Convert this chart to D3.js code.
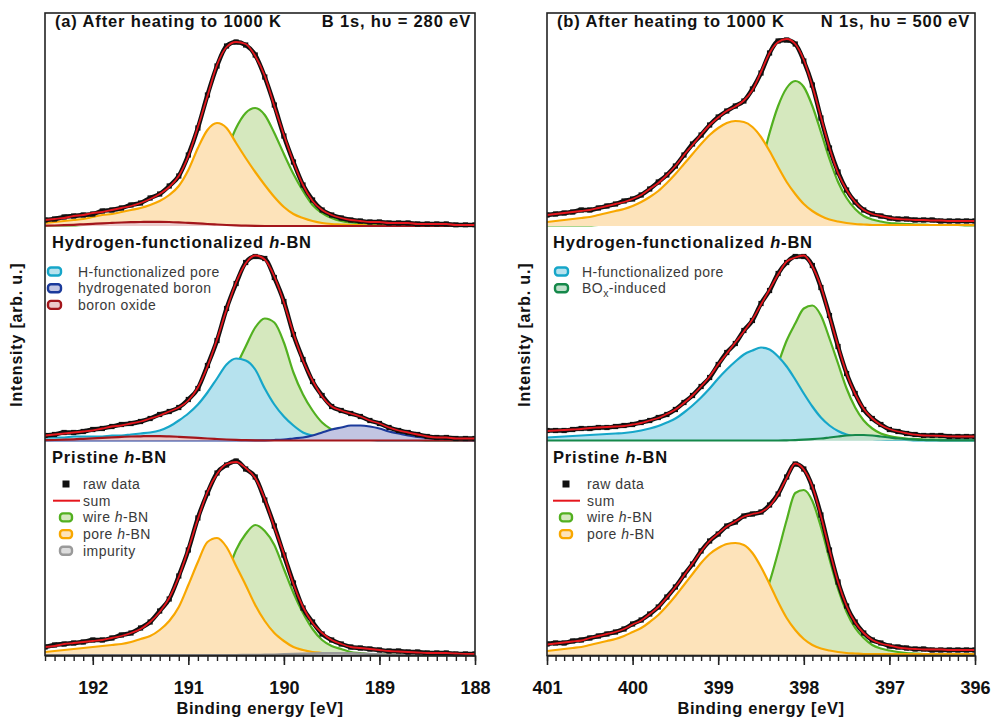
<!DOCTYPE html>
<html><head><meta charset="utf-8">
<script src="https://cdn.jsdelivr.net/npm/d3@7"></script>
<style>
body{margin:0;background:#fff}
svg text{font-family:"Liberation Sans",Arial,Helvetica,sans-serif}
</style>
</head><body>
<svg id="chart" width="993" height="720"></svg>
<script>
// ---------------- DATA ----------------
const B_ENERGY = [192.5,192.4,192.3,192.2,192.1,192.0,191.9,191.8,191.7,191.6,191.5,191.4,191.3,191.2,191.1,191.0,190.9,190.8,190.7,190.6,190.5,190.4,190.3,190.2,190.1,190.0,189.9,189.8,189.7,189.6,189.5,189.4,189.3,189.2,189.1,189.0,188.9,188.8,188.7,188.6,188.5,188.4,188.3,188.2,188.1,188.0];
const N_ENERGY = [401.0,400.9,400.8,400.7,400.6,400.5,400.4,400.3,400.2,400.1,400.0,399.9,399.8,399.7,399.6,399.5,399.4,399.3,399.2,399.1,399.0,398.9,398.8,398.7,398.6,398.5,398.4,398.3,398.2,398.1,398.0,397.9,397.8,397.7,397.6,397.5,397.4,397.3,397.2,397.1,397.0,396.9,396.8,396.7,396.6,396.5,396.4,396.3,396.2,396.1,396.0];
const B_TICKS = [192,191,190,189,188];
const N_TICKS = [401,400,399,398,397,396];

// (a) B 1s — after heating to 1000 K
const A_TOP_RAW   = [6,7,9,10,11,12,15,16,18,21,23,28,32,40,50,71,98,131,160,180,184,181,171,149,121,90,64,41,26,16,11,8,6,5,4,4,3,3,3,2,2,2,2,1,1,1];
const A_TOP_SUM   = [6,7,8,10,11,13,14,16,18,20,23,27,32,39,50,70,99,130,161,179,184,182,170,150,120,91,64,41,25,16,11,8,6,5,4,4,3,3,3,2,2,2,2,1,1,1];
const A_TOP_WIRE  = [0.5,0.5,0.5,0.5,1,1,1,1,1,1,1.5,2,3,4,6,10,18,33,52,75,98,113,118,111,93,72,52,35,21,13,8,5,3.5,2.5,2,1.5,1,1,1,0.5,0.5,0.5,0.5,0.5,0.5,0.5];
const A_TOP_PORE  = [3,4,5,6,7,9,11,12,14,16,18,21,25,31,40,56,78,96,103,98,83,68,54,41,29,19,12,8,5,3,2,1.5,1,1,0.5,0.5,0.5,0.5,0,0,0,0,0,0,0,0];
const A_TOP_OXIDE = [0.3,0.5,0.8,1.2,1.7,2.2,2.7,3.1,3.5,3.8,4,4.2,4.2,4,3.6,3.1,2.6,2,1.5,1,0.6,0.3,0.1,0,0,0,0,0,0,0,0,0,0,0,0,0,0,0,0,0,0,0,0,0,0,0];

// (a) B 1s — hydrogen-functionalized
const A_MID_RAW    = [5,6,8,8,9,11,12,14,16,17,19,22,26,29,33,41,52,75,100,132,157,178,184,182,163,139,106,81,59,45,34,30,27,24,20,17,13,10,8,6,4,3,3,2,2,2];
const A_MID_SUM    = [5,6,7,8,9,10,12,14,15,17,19,22,25,29,33,40,53,74,101,131,158,177,185,181,164,138,107,80,60,44,34,30,27,24,20,17,13,10,8,6,4,3,3,2,2,2];
const A_MID_WIRE   = [0.5,0.5,0.5,0.5,0.5,0.5,1,1,1,1,1,2,3,4,6,10,15,24,36,53,74,94,113,122,118,98,68,46,30,18,11,6,4,2,1,1,0.5,0.5,0.5,0.5,0,0,0,0,0,0];
const A_MID_HPORE  = [3,3,3,4,4,4,4,5,5,6,7,8,10,14,20,27,36,48,62,76,82,80,71,52,36,24,15,8,5,3,2,1,1,0.5,0.5,0,0,0,0,0,0,0,0,0,0,0];
const A_MID_HBORON = [0,0,0,0,0,0,0,0,0,0,0,0,0,0,0,0,0,0,0,0,0,0,0,0.2,0.5,1,2,3,5,8,11,13,15,15,14,12,9,7,5,3.5,2.5,1.5,1,0.5,0.3,0.2];
const A_MID_OXIDE  = [0.3,0.5,0.8,1.2,1.7,2.2,2.7,3.2,3.6,4,4.2,4.4,4.4,4.1,3.7,3.2,2.6,2,1.5,1,0.6,0.3,0.1,0,0,0,0,0,0,0,0,0,0,0,0,0,0,0,0,0,0,0,0,0,0,0];

// (a) B 1s — pristine
const A_BOT_RAW      = [8,10,11,12,13,15,15,17,20,22,27,33,44,56,79,105,137,162,182,190,194,186,178,155,129,100,72,47,33,21,15,11,8,7,6,5,4,4,3,3,2,2,2,1,1,1];
const A_BOT_SUM      = [8,9,11,12,13,14,15,17,19,22,26,33,43,57,78,106,136,163,181,191,193,187,177,156,128,101,71,48,32,22,15,11,8,7,6,5,4,3.5,3,2.5,2,2,2,1.5,1,1];
const A_BOT_WIRE     = [0.5,0.5,0.5,0.5,0.5,1,1,1,1,1,2,3,5,7,11,17,26,39,57,80,105,121,130,124,110,86,62,42,26,15,9,6,3,2,1,1,0.5,0.5,0.5,0.5,0,0,0,0,0,0];
const A_BOT_PORE     = [3,4,5,6,7,8,9,10,11,13,16,19,25,34,48,70,93,113,117,108,89,70,50,34,22,14,8,5,3,2,1,1,0.5,0.5,0.5,0.5,0,0,0,0,0,0,0,0,0,0];
const A_BOT_IMPURITY = [0,0,0,0,0,0,0,0,0,0,0,0,0,0,0,0,0,0,0,0,0,0.1,0.2,0.3,0.5,0.8,1.1,1.4,1.7,1.9,2,2,1.8,1.5,1.1,0.8,0.5,0.3,0.2,0.1,0,0,0,0,0,0];

// (b) N 1s — after heating to 1000 K
const B_TOP_RAW  = [11,12,13,14,16,16,18,20,22,25,27,31,37,44,51,60,71,82,91,101,109,115,120,125,137,153,173,185,186,182,165,141,108,78,54,36,24,16,12,10,8,7,7,6,6,6,5,5,5,5,5];
const B_TOP_SUM  = [11,12,13,14,15,16,18,20,22,24,27,31,37,43,51,60,71,81,91.5,101,108.5,115,119.5,125.5,136,154,173,184,187,182,166,140,109,78,53,36,24,16,12,10,8,7,6.5,6,6,5.5,5.5,5,5,5,5];
const B_TOP_WIRE = [0.5,0.5,0.5,0.5,0.5,0.5,1,1,1,1,1,1,1.5,1.5,2,2,2.5,3,3.5,4,5,6.5,9,16,32,60,93,120,138,145,139,120,94,67,44,28,17,10,6.5,4.5,3,2.5,2,1.5,1.5,1,1,1,1,0.5,0.5];
const B_TOP_PORE = [4,5,6,7,8,9,11,13,15,17,20,24,29,35,43,52,62,72,82,91,98,103,105,104,99,89,75,59,44,32,22,15,10,6.5,4.5,3,2,1.5,1,1,1,1,1,1,1,1,1,1,1,1,1];

// (b) N 1s — hydrogen-functionalized
const B_MID_RAW   = [10,10,10,11,12,12,13,13,14,15,16,18,20,23,26,31,38,45,54,63,76,88,97,110,120,137,150,167,178,184,184,175,153,125,94,67,47,31,22,16,11,9,7,6,5,5,5,4,4,4,4];
const B_MID_SUM   = [9.5,10,10.5,11,11.5,12.5,13,13.5,14,14.5,16,17.5,20,22.5,26.5,31,37.5,45,54,64,76,87,98,109,121,136,151,166,179,183,185,174,154,124,94.5,67,46.5,31.5,22,15.5,11.5,9,7.3,5.8,5,4.8,4.7,4.1,4,4,4];
const B_MID_WIRE  = [0.5,0.5,0.5,0.5,0.5,1,1,1,1,1,1.5,1.5,2,2,2.5,3,3.5,4,5,6,8,10,13,18,26,38,55,77,100,117,132,135,125,102,77,52,33,20,12,7,4.5,3,2,1.5,1,1,1,0.5,0.5,0.5,0.5];
const B_MID_HPORE = [3,3.5,4,4.5,5,5.5,6,6.5,7,7.5,8.5,10,12,14.5,18,22,28,35,43,52,62,71,79,86,90,93,91,84,74,61,47,34,23,15,9.5,6,4,2.5,1.5,1,0.5,0.5,0.5,0,0,0,0,0,0,0,0];
const B_MID_BOX   = [0,0,0,0,0,0,0,0,0,0,0,0,0,0,0,0,0,0,0,0,0,0,0,0,0,0,0,0,0.2,0.4,0.8,1.3,2,3,4,5,5.5,5.5,5,4,3,2,1.3,0.8,0.5,0.3,0.2,0.1,0,0,0];

// (b) N 1s — pristine
const B_BOT_RAW  = [11,12,12,14,15,17,19,21,23,26,31,35,41,48,58,68,80,91,104,114,121,129,133,139,141,143,150,161,178,191,186,168,140,105,73,49,33,22,15,12,9,8,7,6,6,5,5,5,5,5,5];
const B_BOT_SUM  = [10.5,11.5,12.5,13.5,14.5,17,19,21,23,26,30.5,34.5,41,48,57.5,68,79.5,91.5,103.5,114,121.5,128.5,133.5,138.5,141,143,149,161,177,191.5,185.5,168.5,139,105,73,49,32.5,22,15,11.5,9.5,7.5,6.5,6,5.5,5.5,5.5,5,5,5,5];
const B_BOT_WIRE = [0.5,0.5,0.5,0.5,0.5,1,1,1,1,1,1.5,1.5,2,2,2.5,3,3.5,4.5,5.5,7,9,12,16,23,34,50,73,103,135,162,165,154,128,96,66,43,27,17,10,6.5,4.5,3,2,1.5,1,1,1,0.5,0.5,0.5,0.5];
const B_BOT_PORE = [4,5,6,7,8,10,12,14,16,19,23,27,33,40,49,59,70,81,92,101,107,111,112,110,102,88,71,53,37,25,16,10,6.5,4.5,3,2,1.5,1,1,1,1,1,1,1,1,1,1,1,1,1,1];

// labels
const LEGEND_A_MID = [["hpore","H-functionalized pore"],["hboron","hydrogenated boron"],["oxide","boron oxide"]];
const LEGEND_A_BOT = [["raw","raw data"],["sum","sum"],["wire","wire |h|-BN"],["pore","pore |h|-BN"],["impurity","impurity"]];
const LEGEND_B_MID = [["hpore","H-functionalized pore"],["box","BO_x-induced"]];
const LEGEND_B_BOT = [["raw","raw data"],["sum","sum"],["wire","wire |h|-BN"],["pore","pore |h|-BN"]];

// ---------------- STYLE ----------------
const COL = {
  wire:{line:"#52b020",fill:"#d5e8be"},
  pore:{line:"#f8a700",fill:"#fde3ba"},
  hpore:{line:"#16a6c9",fill:"#b6e2ee"},
  hboron:{line:"#1b3a9b",fill:"#c2c5e2"},
  oxide:{line:"#a3161b",fill:"#eccaca"},
  impurity:{line:"#9a9a9a",fill:"#dddddd"},
  box:{line:"#15884a",fill:"#bfe0cb"}
};
const RED = "#e5161d";

const panels = [
  {x0:45, x1:475, domain:[192.5,188], energy:B_ENERGY, ticks:B_TICKS, yLabX:22,
   titleL:"(a) After heating to 1000 K", titleR:"B 1s, h\u03c5 = 280 eV", titleX:55, titleRX:471,
   subs:[
     {raw:A_TOP_RAW, sum:A_TOP_SUM, comps:[["wire",A_TOP_WIRE],["pore",A_TOP_PORE],["oxide",A_TOP_OXIDE]]},
     {raw:A_MID_RAW, sum:A_MID_SUM, comps:[["wire",A_MID_WIRE],["hpore",A_MID_HPORE],["hboron",A_MID_HBORON],["oxide",A_MID_OXIDE]],
      heading:"Hydrogen-functionalized ", legend:LEGEND_A_MID},
     {raw:A_BOT_RAW, sum:A_BOT_SUM, comps:[["wire",A_BOT_WIRE],["pore",A_BOT_PORE],["impurity",A_BOT_IMPURITY]],
      heading:"Pristine ", legend:LEGEND_A_BOT}
   ], legX:{mid:[48,78], bot:[66,83]}, headX:52},
  {x0:547, x1:975, domain:[401,396], energy:N_ENERGY, ticks:N_TICKS, yLabX:530,
   titleL:"(b) After heating to 1000 K", titleR:"N 1s, h\u03c5 = 500 eV", titleX:557, titleRX:970,
   subs:[
     {raw:B_TOP_RAW, sum:B_TOP_SUM, comps:[["wire",B_TOP_WIRE],["pore",B_TOP_PORE]]},
     {raw:B_MID_RAW, sum:B_MID_SUM, comps:[["wire",B_MID_WIRE],["hpore",B_MID_HPORE],["box",B_MID_BOX]],
      heading:"Hydrogen-functionalized ", legend:LEGEND_B_MID},
     {raw:B_BOT_RAW, sum:B_BOT_SUM, comps:[["wire",B_BOT_WIRE],["pore",B_BOT_PORE]],
      heading:"Pristine ", legend:LEGEND_B_BOT}
   ], legX:{mid:[555,582], bot:[566,587]}, headX:553}
];

const svg = d3.select("#chart");
const TOP = 13, SUBH = 214.5;

function bold(sel, size, ls){
  return sel.attr("font-size",size+"px").attr("font-weight","bold").attr("letter-spacing",ls+"px").attr("fill","#111");
}
function richText(sel, str){
  const parts = str.split("|");
  parts.forEach((p,i)=>{
    if(i%2===1){ sel.append("tspan").attr("font-style","italic").text(p); return; }
    const sub = p.split("_");
    sel.append("tspan").text(sub[0]);
    if(sub.length>1){
      sel.append("tspan").attr("font-size","10.5px").attr("dy",4).text(sub[1].charAt(0));
      sel.append("tspan").attr("dy",-4).text(sub[1].slice(1));
    }
  });
}

panels.forEach((p,pi)=>{
  const x = d3.scaleLinear().domain(p.domain).range([p.x0,p.x1]);
  p.subs.forEach((s,k)=>{
    const top = TOP + k*SUBH, bot = top + SUBH;
    const y = d3.scaleLinear().domain([0,213]).range([bot-1.5, bot-1.5-213]);
    const cid = `clip${pi}${k}`;
    svg.append("clipPath").attr("id",cid).append("rect")
      .attr("x",p.x0).attr("y",top).attr("width",p.x1-p.x0).attr("height",SUBH);
    const g = svg.append("g").attr("clip-path",`url(#${cid})`);
    const area = d3.area().x(d=>x(d[0])).y0(y(0)).y1(d=>y(d[1])).curve(d3.curveMonotoneX);
    const line = d3.line().x(d=>x(d[0])).y(d=>y(d[1])).curve(d3.curveMonotoneX);
    s.comps.forEach(([key,vals])=>{
      const pts = p.energy.map((e,i)=>[e,vals[i]]);
      g.append("path").datum(pts).attr("d",area).attr("fill",COL[key].fill);
      g.append("path").datum(pts).attr("d",line).attr("fill","none")
        .attr("stroke",COL[key].line).attr("stroke-width",2.2);
    });
    const rawPts = p.energy.map((e,i)=>[e,s.raw[i]]);
    g.append("path").datum(rawPts).attr("d",line).attr("fill","none")
      .attr("stroke","#111").attr("stroke-width",4.4);
    g.selectAll(null).data(rawPts).enter().append("rect")
      .attr("x",d=>x(d[0])-2.6).attr("y",d=>y(d[1])-2.6).attr("width",5.2).attr("height",5.2).attr("fill","#111");
    const sumPts = p.energy.map((e,i)=>[e,s.sum[i]]);
    g.append("path").datum(sumPts).attr("d",line).attr("fill","none")
      .attr("stroke",RED).attr("stroke-width",1.8);

    if(s.heading){
      const t = bold(svg.append("text").attr("x",p.headX).attr("y",top+20.5), 16.5, 0.8);
      t.append("tspan").text(s.heading);
      t.append("tspan").attr("font-style","italic").text("h");
      t.append("tspan").text("-BN");
      const isBot = k===2;
      const [sx, tx] = isBot ? p.legX.bot : p.legX.mid;
      s.legend.forEach(([key,label],j)=>{
        const cy = top + (isBot ? 42 : 44) + j*16.7;
        if(key==="raw"){
          svg.append("rect").attr("x",sx-3.5).attr("y",cy-3.5).attr("width",7).attr("height",7).attr("fill","#111");
        } else if(key==="sum"){
          svg.append("line").attr("x1",sx-13).attr("x2",sx+14).attr("y1",cy).attr("y2",cy)
            .attr("stroke",RED).attr("stroke-width",2);
        } else {
          const w = isBot?12:13;
          svg.append("rect").attr("x",isBot?sx-6:sx).attr("y",cy-4).attr("width",w).attr("height",8).attr("rx",3)
            .attr("fill",COL[key].fill).attr("stroke",COL[key].line).attr("stroke-width",2.4);
        }
        const tt = svg.append("text").attr("x",tx).attr("y",cy+5)
          .attr("font-size","14px").attr("letter-spacing","0.45px").attr("fill","#3a3a3a");
        richText(tt,label);
      });
    }
  });

  // frame
  svg.append("rect").attr("x",p.x0).attr("y",TOP).attr("width",p.x1-p.x0).attr("height",3*SUBH-1)
    .attr("fill","none").attr("stroke","#222").attr("stroke-width",1.6);
  const axisY = TOP + 3*SUBH - 1;
  const minor = d3.range(Math.round(p.domain[1]*10), Math.round(p.domain[0]*10)+1).map(v=>v/10);
  const gm = svg.append("g").attr("transform",`translate(0,${axisY})`)
    .call(d3.axisBottom(x).tickValues(minor).tickSize(5.5).tickSizeOuter(0).tickFormat(""));
  gm.select(".domain").remove();
  gm.selectAll("line").attr("stroke","#222").attr("stroke-width",1.4);
  const ga = svg.append("g").attr("transform",`translate(0,${axisY})`)
    .call(d3.axisBottom(x).tickValues(p.ticks).tickSize(9.5).tickSizeOuter(0).tickFormat(d3.format("d")));
  ga.select(".domain").attr("stroke","#222").attr("stroke-width",1.6);
  ga.selectAll("line").attr("stroke","#222").attr("stroke-width",1.6);
  ga.selectAll("text").attr("font-family",'"Liberation Sans",Arial,sans-serif').attr("font-size","18px")
    .attr("font-weight","bold").attr("fill","#111").attr("y",25.5);
  bold(svg.append("text").attr("x",(p.x0+p.x1)/2).attr("y",714).attr("text-anchor","middle"),16.5,0.6)
    .text("Binding energy [eV]");
  bold(svg.append("text").attr("transform",`translate(${p.yLabX},${TOP+1.5*SUBH}) rotate(-90)`)
    .attr("text-anchor","middle"),16,0.8).text("Intensity [arb. u.]");
  bold(svg.append("text").attr("x",p.titleX).attr("y",TOP+13.5),16.5,0.85).text(p.titleL);
  bold(svg.append("text").attr("x",p.titleRX).attr("y",TOP+13.5).attr("text-anchor","end"),16.5,0.85).text(p.titleR);
});
</script>
</body></html>
